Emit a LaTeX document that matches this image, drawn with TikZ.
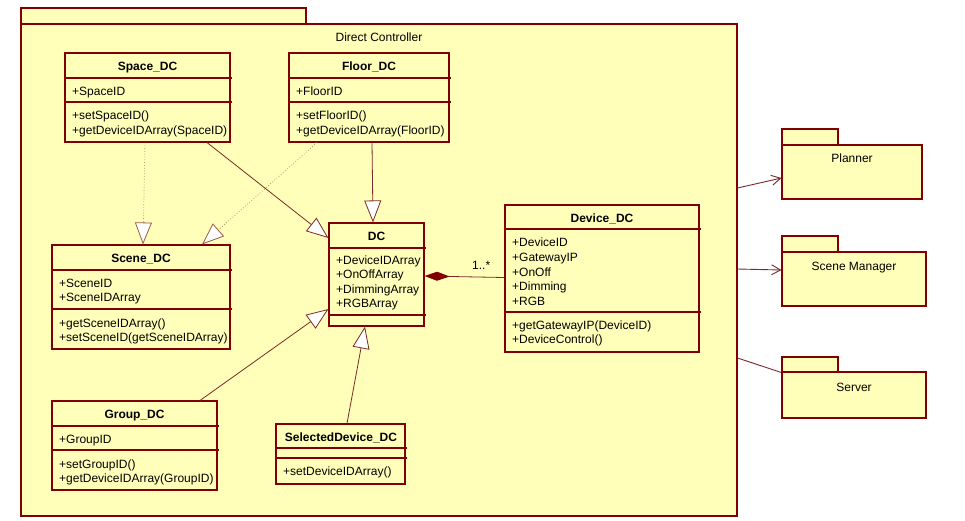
\documentclass[tikz,border=0pt]{standalone}
\usepackage{fontspec}
\setmainfont{Liberation Sans}
\usetikzlibrary{arrows.meta,fit}
\definecolor{umlfill}{HTML}{FFFFB9}
\definecolor{umlline}{HTML}{800000}
\definecolor{connline}{HTML}{7A2A2A}
\definecolor{dotline}{HTML}{B89A70}
\definecolor{dottip}{HTML}{9A5A4A}
\newcommand\crows[4]{%
  \foreach \t [count=\i] in {#4} \node[ctext] (#1\i) at (#2, {#3+(\i-1)*14.6}) {\t};}
\begin{document}
\begin{tikzpicture}[x=1pt,y=-1pt,
  box/.style={draw=umlline, fill=umlfill, line width=1.1pt, inner sep=0pt},
  sepline/.style={draw=umlline, line width=1.1pt},
  cname/.style={font=\fontsize{12}{14}\selectfont\bfseries, anchor=base, inner sep=0pt},
  ctext/.style={font=\fontsize{12}{14}\selectfont, anchor=base west, inner sep=0pt},
  ptext/.style={font=\fontsize{12}{14}\selectfont, anchor=base, inner sep=0pt},
  gen/.style={draw=connline, line width=0.8pt, -{Triangle[fill=white, length=22pt, width=17pt]}},
  real/.style={draw=dotline, line width=0.8pt, dotted, -{Triangle[fill=white, color=dottip, length=22pt, width=17pt]}},
  comp/.style={draw=connline, line width=0.8pt, {Diamond[length=25pt, width=9pt, color=umlline]}-},
  dep/.style={draw=connline, line width=0.9pt, -{Straight Barb[length=9pt, width=10pt]}}
]
\useasboundingbox (0,0) rectangle (965,520);
\fill[white] (0,0) rectangle (965,520);

% main package
\node[box, fit={(21,8) (306,24)}] (dctab) {};
\node[box, fit={(21,24) (737,516)}] (dcpkg) {};
\node[ptext] (dctitle) at (379,41.5) {Direct Controller};

% external packages
\node[box, fit={(782,129) (838,145)}] (plantab) {};
\node[box, fit={(782,145) (922,199)}] (planner) {};
\node[ptext] (plantitle) at (852,162) {Planner};
\node[box, fit={(782,236) (838,252)}] (scmtab) {};
\node[box, fit={(782,252) (926,306)}] (scm) {};
\node[ptext] (scmtitle) at (854,270) {Scene Manager};
\node[box, fit={(782,357) (838,372)}] (servtab) {};
\node[box, fit={(782,372) (926,418)}] (server) {};
\node[ptext] (servtitle) at (854,391) {Server};

% Space_DC
\node[box, fit={(65,53) (230,142)}] (space) {};
\draw[sepline] (65,78) -- (231.5,78) (65,102) -- (231.5,102);
\node[cname] (spacen) at (147.5,70) {Space\_DC};
\crows{spacea}{72}{95}{+SpaceID}
\crows{spacem}{72}{119.5}{+setSpaceID(),+getDeviceIDArray(SpaceID)}

% Floor_DC
\node[box, fit={(289,53) (449,142)}] (floor) {};
\draw[sepline] (289,78) -- (450.5,78) (289,102) -- (450.5,102);
\node[cname] (floorn) at (369,70) {Floor\_DC};
\crows{floora}{296}{95}{+FloorID}
\crows{floorm}{296}{119.5}{+setFloorID(),+getDeviceIDArray(FloorID)}

% Scene_DC
\node[box, fit={(52,245) (230,349)}] (scene) {};
\draw[sepline] (52,270) -- (231.5,270) (52,309) -- (231.5,309);
\node[cname] (scenen) at (141,262) {Scene\_DC};
\crows{scenea}{59}{287}{+SceneID,+SceneIDArray}
\crows{scenem}{59}{327}{+getSceneIDArray(),+setSceneID(getSceneIDArray)}

% DC
\node[box, fit={(329,223) (424,326)}] (dc) {};
\draw[sepline] (329,248) -- (425.5,248) (329,315) -- (425.5,315);
\node[cname] (dcn) at (376.5,240) {DC};
\crows{dca}{336}{264}{+DeviceIDArray,+OnOffArray,+DimmingArray,+RGBArray}

% Device_DC
\node[box, fit={(505,205) (699,352)}] (device) {};
\draw[sepline] (505,229) -- (700.5,229) (505,312) -- (700.5,312);
\node[cname] (devicen) at (602,222) {Device\_DC};
\crows{devicea}{512}{246.8}{+DeviceID,+GatewayIP,+OnOff,+Dimming,+RGB}
\crows{devicem}{512}{329}{+getGatewayIP(DeviceID),+DeviceControl()}

% Group_DC
\node[box, fit={(52,401) (217,490)}] (group) {};
\draw[sepline] (52,426) -- (218.5,426) (52,450) -- (218.5,450);
\node[cname] (groupn) at (134.5,418.5) {Group\_DC};
\crows{groupa}{59}{443.5}{+GroupID}
\crows{groupm}{59}{468}{+setGroupID(),+getDeviceIDArray(GroupID)}

% SelectedDevice_DC
\node[box, fit={(276,424) (405,484)}] (seldev) {};
\draw[sepline] (276,448) -- (406.5,448) (276,458) -- (406.5,458);
\node[cname] (seldevn) at (341,441) {SelectedDevice\_DC};
\crows{seldevm}{283}{475}{+setDeviceIDArray()}

% connectors inside
\draw[real] (space.south -| 145,0) -- (scene.north -| 143,0);
\draw[real] (floor.south -| 317,0) -- (scene.north -| 202,0);
\draw[gen] (space.south -| 207,0) -- (dc.west |- 0,238);
\draw[gen] (floor.south -| 372,0) -- (dc.north -| 373,0);
\draw[gen] (group.north -| 200,0) -- (dc.west |- 0,309);
\draw[gen] (seldev.north -| 347,0) -- (dc.south -| 365,0);
\draw[comp] (dc.east |- 0,276) -- (device.west |- 0,277.5);
\node[ctext] (mult) at (472,269) {1..*};

% package dependencies
\draw[dep] (dcpkg.east |- 0,188) -- (planner.west |- 0,178);
\draw[dep] (dcpkg.east |- 0,269) -- (scm.west |- 0,270);
\draw[connline, line width=0.9pt] (dcpkg.east |- 0,358) -- (servtab.south west);
\end{tikzpicture}
\end{document}
